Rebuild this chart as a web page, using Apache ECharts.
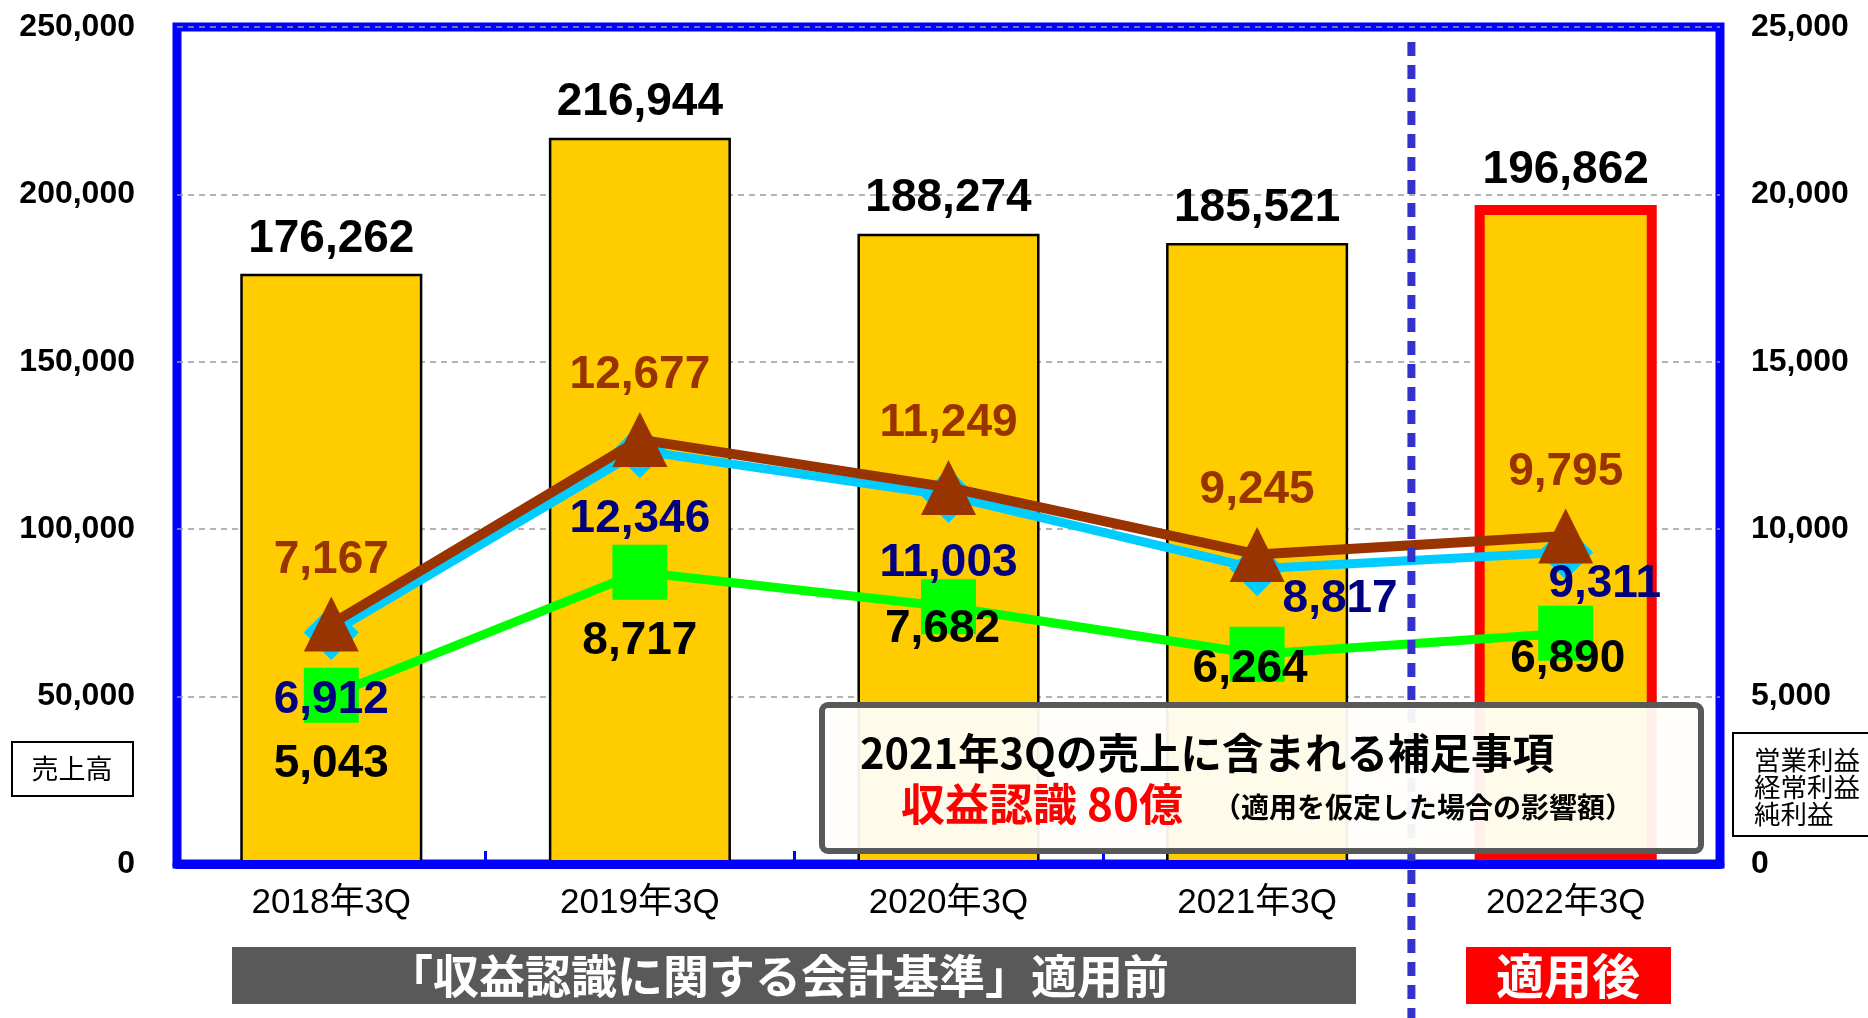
<!DOCTYPE html>
<html>
<head>
<meta charset="utf-8">
<script src="https://cdn.jsdelivr.net/npm/echarts@6/dist/echarts.min.js"></script>
<style>
  html, body { margin: 0; padding: 0; background: #fff; }
  #chart { width: 1868px; height: 1018px; }
</style>
</head>
<body>
<div id="chart"></div>
<script>
// 売上高 / 営業利益 / 経常利益 / 純利益（百万円）
const categories = ['2018年3Q', '2019年3Q', '2020年3Q', '2021年3Q', '2022年3Q'];
const sales = [176262, 216944, 188274, 185521, 196862];
const operatingProfit = [6912, 12346, 11003, 8817, 9311];
const ordinaryProfit = [7167, 12677, 11249, 9245, 9795];
const netProfit = [5043, 8717, 7682, 6264, 6890];

// label offsets (px) – where the original nudges labels around
const opLabelOffset = [[0, 68], [0, 69], [0, 68], [83, 31], [39, 32]];
const netLabelOffset = [[0, 69], [0, 69], [-6, 23], [-7, 15], [2, 26]];

const NUM_FONT = '"Liberation Sans", Arial, "Noto Sans CJK JP", sans-serif';
const JP_FONT = '"Noto Sans CJK JP", "Liberation Sans", sans-serif';
const fmt = v => Number(v).toLocaleString('en-US');

const chart = echarts.init(document.getElementById('chart'));

const barData = sales.map((v, i) => {
  const last = i === sales.length - 1;
  return {
    value: v,
    itemStyle: last
      ? { color: '#FFCC00', borderColor: '#FF0000', borderWidth: 10 }
      : { color: '#FFCC00', borderColor: '#000000', borderWidth: 2.5 }
  };
});

const lineLabel = (color) => ({
  show: true,
  position: 'inside',
  color: color,
  fontSize: 46,
  fontWeight: 'bold',
  fontFamily: NUM_FONT,
  formatter: p => fmt(p.value)
});

const option = {
  animation: false,
  backgroundColor: '#ffffff',
  grid: {
    left: 177, right: 148, top: 27, bottom: 154,
    show: true, borderColor: '#0000FF', borderWidth: 9, backgroundColor: 'transparent'
  },
  xAxis: {
    type: 'category',
    data: categories,
    z: 3,
    axisLine: { show: true, lineStyle: { color: '#0000FF', width: 9 } },
    axisTick: { show: true, inside: true, length: 13, lineStyle: { color: '#0000FF', width: 3 } },
    axisLabel: { margin: 22, color: '#000', fontSize: 35, fontFamily: NUM_FONT }
  },
  yAxis: [
    {
      type: 'value', min: 0, max: 250000, interval: 50000,
      axisLine: { show: false }, axisTick: { show: false },
      splitLine: { show: true, lineStyle: { color: '#9a9a9a', type: [6, 5], width: 1.5 } },
      axisLabel: {
        margin: 42, color: '#000', fontSize: 32, fontWeight: 'bold', fontFamily: NUM_FONT,
        formatter: fmt
      }
    },
    {
      type: 'value', min: 0, max: 25000, interval: 5000, position: 'right',
      axisLine: { show: false }, axisTick: { show: false }, splitLine: { show: false },
      axisLabel: {
        margin: 31, color: '#000', fontSize: 32, fontWeight: 'bold', fontFamily: NUM_FONT,
        formatter: fmt
      }
    }
  ],
  series: [
    {
      name: '売上高',
      type: 'bar',
      barWidth: '59%',
      data: barData,
      label: {
        show: true, position: 'top', distance: 12,
        color: '#000', fontSize: 46, fontWeight: 'bold', fontFamily: NUM_FONT,
        formatter: p => fmt(p.value)
      }
    },
    {
      name: '純利益',
      type: 'line',
      yAxisIndex: 1,
      symbol: 'rect', symbolSize: 55,
      lineStyle: { color: '#00FF00', width: 9 },
      itemStyle: { color: '#00FF00' },
      data: netProfit.map((v, i) => ({ value: v, label: { offset: netLabelOffset[i] } })),
      label: lineLabel('#000000'),
      z: 4
    },
    {
      name: '営業利益',
      type: 'line',
      yAxisIndex: 1,
      symbol: 'diamond', symbolSize: 55,
      lineStyle: { color: '#00CCFF', width: 9 },
      itemStyle: { color: '#00CCFF' },
      data: operatingProfit.map((v, i) => ({ value: v, label: { offset: opLabelOffset[i] } })),
      label: lineLabel('#000080'),
      z: 5
    },
    {
      name: '経常利益',
      type: 'line',
      yAxisIndex: 1,
      symbol: 'triangle', symbolSize: 55,
      lineStyle: { color: '#993300', width: 10 },
      itemStyle: { color: '#993300' },
      data: ordinaryProfit,
      label: Object.assign(lineLabel('#993300'), { offset: [0, -64] }),
      z: 6
    }
  ]
};

chart.setOption(option);

// separator between 2021 and 2022 (before/after the accounting standard)
const xa = chart.convertToPixel({ xAxisIndex: 0 }, categories[3]);
const xb = chart.convertToPixel({ xAxisIndex: 0 }, categories[4]);
const sepX = (xa + xb) / 2;

chart.setOption({
  graphic: [
    {
      type: 'line', z: 50,
      shape: { x1: sepX, y1: 42, x2: sepX, y2: 1018 },
      style: { stroke: '#3333CC', lineWidth: 8, lineDash: [14, 9] }
    },
    // 売上高 box
    {
      type: 'rect', z: 60,
      shape: { x: 12, y: 742, width: 121, height: 54 },
      style: { fill: '#fff', stroke: '#000', lineWidth: 2 }
    },
    {
      type: 'text', z: 61, x: 72, y: 769,
      style: { text: '売上高', fill: '#000', font: '27px ' + JP_FONT, align: 'center', verticalAlign: 'middle' }
    },
    // profit box on the right
    {
      type: 'rect', z: 60,
      shape: { x: 1733, y: 733, width: 150, height: 103 },
      style: { fill: '#fff', stroke: '#000', lineWidth: 2 }
    },
    {
      type: 'text', z: 61, x: 1754, y: 787,
      style: {
        text: '営業利益\n経常利益\n純利益', fill: '#000', font: '26.5px ' + JP_FONT,
        lineHeight: 27, align: 'left', verticalAlign: 'middle'
      }
    },
    // annotation box
    {
      type: 'rect', z: 70,
      shape: { x: 822, y: 705, width: 879, height: 146, r: 6 },
      style: { fill: 'rgba(255,254,250,0.94)', stroke: '#595959', lineWidth: 6 }
    },
    {
      type: 'text', z: 71, x: 860, y: 753,
      style: {
        text: '2021年3Qの売上に含まれる補足事項', fill: '#000',
        font: 'bold 41.5px ' + JP_FONT, align: 'left', verticalAlign: 'middle'
      }
    },
    {
      type: 'text', z: 71, x: 901, y: 804,
      style: {
        text: '収益認識 80億', fill: '#FF0000',
        font: 'bold 44px ' + JP_FONT, align: 'left', verticalAlign: 'middle'
      }
    },
    {
      type: 'text', z: 71, x: 1213, y: 807,
      style: {
        text: '（適用を仮定した場合の影響額）', fill: '#000',
        font: 'bold 28px ' + JP_FONT, align: 'left', verticalAlign: 'middle'
      }
    },
    // bottom banners
    {
      type: 'rect', z: 60,
      shape: { x: 232, y: 947, width: 1124, height: 57 },
      style: { fill: '#595959' }
    },
    {
      type: 'text', z: 61, x: 778, y: 976,
      style: {
        text: '「収益認識に関する会計基準」適用前', fill: '#fff',
        font: 'bold 46px ' + JP_FONT, align: 'center', verticalAlign: 'middle'
      }
    },
    {
      type: 'rect', z: 60,
      shape: { x: 1466, y: 947, width: 205, height: 57 },
      style: { fill: '#FF0000' }
    },
    {
      type: 'text', z: 61, x: 1568, y: 976,
      style: {
        text: '適用後', fill: '#fff',
        font: 'bold 48px ' + JP_FONT, align: 'center', verticalAlign: 'middle'
      }
    }
  ]
});
</script>
</body>
</html>
